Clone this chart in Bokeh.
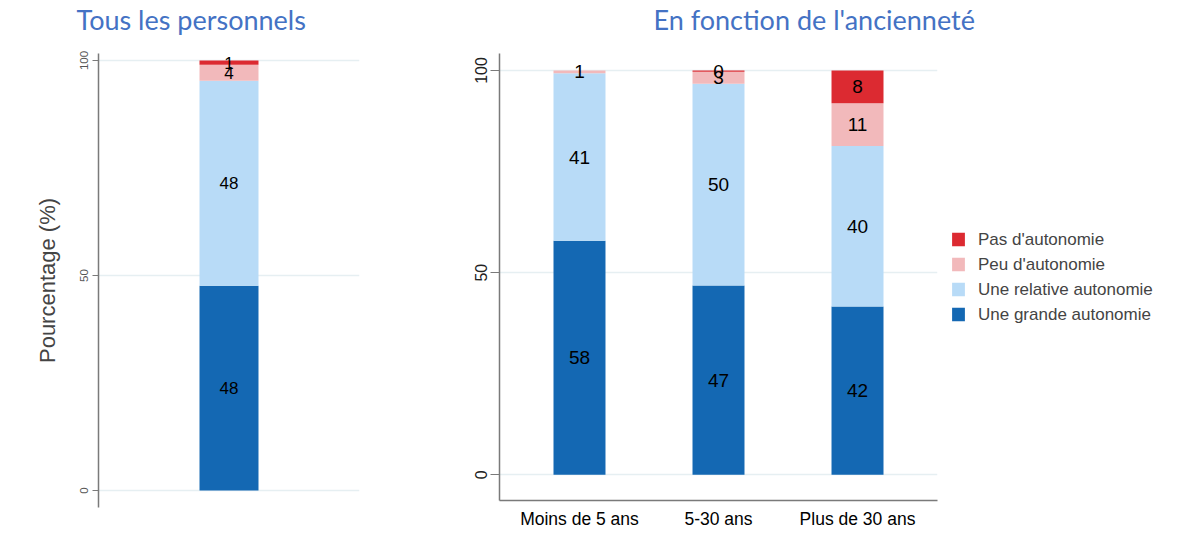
from bokeh.plotting import figure
from bokeh.models import (ColumnDataSource, FactorRange, Range1d, FixedTicker,
                          Legend, LegendItem, Title)
from bokeh.layouts import row
from bokeh.embed import file_html
from bokeh.resources import INLINE
from bokeh.core.properties import value

# ---------------- data ----------------
level_keys = ["grande", "relative", "peu", "pas"]
level_labels = ["Une grande autonomie", "Une relative autonomie",
                "Peu d'autonomie", "Pas d'autonomie"]
level_colors = ["#1468b3", "#b8dbf7", "#f2b9bb", "#dc2a31"]

all_cat = ["Tous les personnels"]
all_grande = [47.6]
all_relative = [47.7]
all_peu = [3.7]
all_pas = [1.0]

anc_cat = ["Moins de 5 ans", "5-30 ans", "Plus de 30 ans"]
anc_grande = [57.9, 46.8, 41.6]
anc_relative = [41.4, 49.9, 39.7]
anc_peu = [0.7, 3.0, 10.6]
anc_pas = [0.0, 0.3, 8.1]

y_ticks = [0, 50, 100]

title_left = "Tous les personnels"
title_right = "En fonction de l'ancienneté"
y_label = "Pourcentage (%)"

FONT = "Liberation Sans"
TITLE_FONT = "Lato"
TITLE_COLOR = "#4472c4"
AXIS_COLOR = "#7a7a7a"
GRID_COLOR = "#e6eff2"


def make_sources(cats, series):
    data = {"cat": cats}
    for k, v in zip(level_keys, series):
        data[k] = v
    lx, ly, lt = [], [], []
    for i, c in enumerate(cats):
        bottom = 0.0
        for v in series:
            val = v[i]
            if val > 0:
                lx.append(c)
                ly.append(bottom + val / 2.0)
                lt.append(str(int(round(val))))
            bottom += val
    return ColumnDataSource(data), ColumnDataSource(dict(x=lx, y=ly, t=lt))


def style_yaxis(p, size, color, tick_out, standoff):
    p.yaxis.ticker = FixedTicker(ticks=y_ticks)
    p.yaxis.major_label_orientation = "vertical"
    p.yaxis.major_label_text_font = FONT
    p.yaxis.major_label_text_font_size = size
    p.yaxis.major_label_text_color = color
    p.yaxis.major_label_standoff = standoff
    p.yaxis.axis_line_color = AXIS_COLOR
    p.yaxis.axis_line_width = 1.5
    p.yaxis.major_tick_line_color = AXIS_COLOR
    p.yaxis.major_tick_out = tick_out
    p.yaxis.major_tick_in = 0
    p.yaxis.minor_tick_line_color = None
    p.xgrid.visible = False
    p.ygrid.grid_line_color = GRID_COLOR
    p.ygrid.grid_line_width = 1.5
    p.outline_line_color = None


def style_title(p, offset):
    # thin spacer between frame and title, so the title sits higher
    p.add_layout(Title(text=" ", text_font_size="1px", standoff=15), "above")
    p.title.align = "left"
    p.title.offset = offset
    p.title.vertical_align = "bottom"
    p.title.standoff = 0
    p.title.text_font = TITLE_FONT
    p.title.text_font_size = "27px"
    p.title.text_font_style = "normal"
    p.title.text_color = TITLE_COLOR


# ---------------- left panel ----------------
src1, lab1 = make_sources(all_cat, [all_grande, all_relative, all_peu, all_pas])
p1 = figure(x_range=FactorRange(factors=all_cat, range_padding=0),
            y_range=Range1d(-3.95, 101.63),
            frame_width=261, frame_height=454, title=title_left,
            output_backend="svg", toolbar_location=None,
            min_border_left=98, min_border_right=70, min_border_top=53,
            min_border_bottom=37)
p1.vbar_stack(level_keys, x="cat", width=0.226, fill_color=level_colors,
              line_color=None, source=src1)
p1.text(x="x", y="y", text="t", source=lab1, text_align="center",
        text_baseline="middle", text_font=value(FONT), text_font_size="17px",
        text_color="black")
style_yaxis(p1, "11.5px", "#555555", 6, 4)
p1.yaxis.axis_label = y_label
p1.yaxis.axis_label_text_font = FONT
p1.yaxis.axis_label_text_font_size = "22px"
p1.yaxis.axis_label_text_font_style = "normal"
p1.yaxis.axis_label_standoff = 18
p1.xaxis.visible = False
style_title(p1, -22)

# ---------------- right panel ----------------
src2, lab2 = make_sources(anc_cat, [anc_grande, anc_relative, anc_peu, anc_pas])
p2 = figure(x_range=FactorRange(factors=anc_cat, range_padding=0.0503),
            y_range=Range1d(-6.36, 104.2),
            frame_width=438, frame_height=447, title=title_right,
            output_backend="svg", toolbar_location=None,
            min_border_left=70, min_border_right=246, min_border_top=53,
            min_border_bottom=44)
rends = p2.vbar_stack(level_keys, x="cat", width=0.374, fill_color=level_colors,
                      line_color=None, source=src2)
p2.text(x="x", y="y", text="t", source=lab2, text_align="center",
        text_baseline="middle", text_font=value(FONT), text_font_size="19px",
        text_color="black")
style_yaxis(p2, "16px", "#222222", 9, 3)
p2.xaxis.axis_line_color = AXIS_COLOR
p2.xaxis.axis_line_width = 1.5
p2.xaxis.major_tick_out = 0
p2.xaxis.major_tick_in = 0
p2.xaxis.major_tick_line_color = None
p2.xaxis.major_label_text_font = FONT
p2.xaxis.major_label_text_font_size = "17.5px"
p2.xaxis.major_label_text_color = "black"
p2.xaxis.major_label_standoff = 8
style_title(p2, 154)

items = [LegendItem(label=lab, renderers=[r])
         for lab, r in reversed(list(zip(level_labels, rends)))]
legend = Legend(items=items, location="center_left", margin=13, padding=0,
                nrows=4, spacing=5, glyph_width=16, glyph_height=17,
                label_height=17, label_standoff=12, label_text_font=FONT,
                label_text_font_size="17px", border_line_color=None,
                background_fill_alpha=0)
p2.add_layout(legend, "right")

layout = row(p1, p2)
open("out.html", "w").write(file_html(layout, INLINE))
